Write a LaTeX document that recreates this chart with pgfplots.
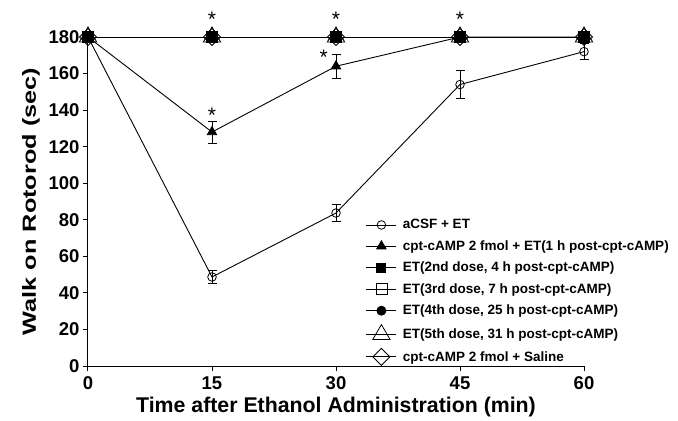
\documentclass[border=0pt]{standalone}
\usepackage{fontspec}
\setmainfont{Liberation Sans}
\usepackage{pgfplots}
\pgfplotsset{compat=1.18}
\begin{document}
\begin{tikzpicture}
\begin{axis}[
  scale only axis, width=496pt, height=329pt,
  xmin=0, xmax=60, ymin=0, ymax=180,
  axis x line*=bottom, axis y line*=left,
  axis line style={-, line width=1pt},
  xtick={0,15,30,45,60}, ytick={0,20,...,180},
  tick align=outside, major tick length=5pt,
  tick style={black, line width=1pt},
  /pgf/number format/assume math mode=true,
  tick label style={font=\bfseries\fontsize{18.5}{18.5}\selectfont},
  xticklabel style={yshift=-2pt},
  xlabel={Time after Ethanol Administration (min)},
  ylabel={Walk on Rotorod (sec)},
  xlabel style={font=\bfseries\fontsize{21.3}{21.3}\selectfont, yshift=-1pt},
  ylabel style={font=\bfseries\fontsize{19}{19}\selectfont, xscale=1.33, yshift=2pt},
  clip=false,
  reverse legend,
  legend style={at={(rel axis cs:0.56,0.452)}, anchor=north west, draw=none, fill=none,
    font=\bfseries\fontsize{13.5}{13.5}\selectfont, row sep=6.2pt, inner sep=0pt},
  legend cell align=left,
  legend image code/.code={\draw[mark repeat=2,mark phase=2,#1] plot coordinates {(0pt,0pt) (15pt,0pt) (30pt,0pt)}; \path (34pt,0pt);},
  error bars/error bar style={line width=0.9pt},
  error bars/error mark options={rotate=90, mark size=4.5pt, line width=0.9pt},
]
% diamond
\addplot[black, line width=0.9pt, mark=square, mark size=6pt, mark options={rotate=45, fill=white, line width=0.8pt}]
  coordinates {(0,180) (15,180) (30,180) (45,180) (60,180)};
\addlegendentry{cpt-cAMP 2 fmol + Saline}
% open triangle
\addplot[black, line width=0.9pt, mark=triangle, mark size=10pt, mark options={fill=white, line width=0.8pt}]
  coordinates {(0,180) (15,180) (30,180) (45,180) (60,180)};
\addlegendentry{ET(5th dose, 31 h post-cpt-cAMP)}
% filled circle
\addplot[black, line width=0.9pt, mark=*, mark size=4.5pt]
  coordinates {(0,180) (15,180) (30,180) (45,180) (60,180)};
\addlegendentry{ET(4th dose, 25 h post-cpt-cAMP)}
% open square
\addplot[black, line width=0.9pt, mark=square, mark size=5.5pt, mark options={fill=white, line width=0.8pt}]
  coordinates {(0,180) (15,180) (30,180) (45,180) (60,180)};
\addlegendentry{ET(3rd dose, 7 h post-cpt-cAMP)}
% filled square
\addplot[black, line width=0.9pt, mark=square*, mark size=4.5pt]
  coordinates {(0,180) (15,180) (30,180) (45,180) (60,180)};
\addlegendentry{ET(2nd dose, 4 h post-cpt-cAMP)}
% filled triangle
\addplot[black, line width=0.9pt, mark=triangle*, mark size=5.4pt,
  error bars/.cd, y dir=both, y explicit]
  coordinates {(0,180) +- (0,0) (15,128) +- (0,6) (30,164) +- (0,6.5) (45,180) +- (0,0) (60,180) +- (0,0)};
\addlegendentry{cpt-cAMP 2 fmol + ET(1 h post-cpt-cAMP)}
% aCSF
\addplot[black, line width=0.9pt, mark=o, mark size=4.3pt, mark options={fill=white, line width=0.8pt},
  error bars/.cd, y dir=both, y explicit]
  coordinates {(0,180) +- (0,0) (15,48.7) +- (0,3.5) (30,83.7) +- (0,4.5) (45,154) +- (0,7.5) (60,172) +- (0,4.5)};
\addlegendentry{aCSF + ET}
% significance stars
\addplot[draw=none, mark=none, forget plot, nodes near coords={*},
  every node near coord/.append style={anchor=center, font=\fontsize{21}{21}\selectfont}]
  coordinates {(15,189.5) (30,189.5) (45,189.5) (15,137) (28.5,169)};
\end{axis}
\pgfresetboundingbox
\path ([shift={(-88pt,-54pt)}]current axis.south west) rectangle ([shift={(94pt,37pt)}]current axis.north east);
\end{tikzpicture}
\end{document}
